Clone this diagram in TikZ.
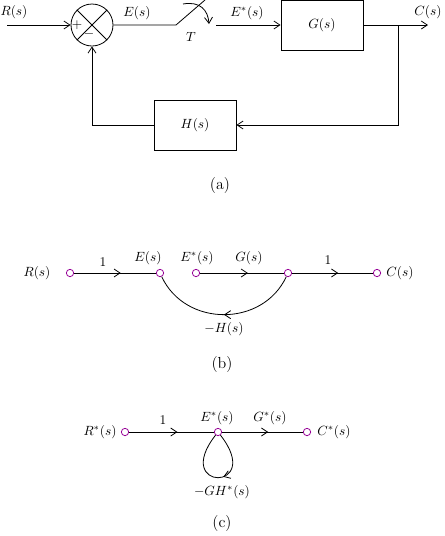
\documentclass[tikz,border=0pt]{standalone}
\usetikzlibrary{decorations.markings, arrows.meta}
\definecolor{nodepurple}{RGB}{150,0,150}
\begin{document}
\begin{tikzpicture}[x=0.75pt, y=0.75pt, semithick, >={Straight Barb[length=4.5pt, width=6pt]},
        block/.style = {draw, minimum width=61.5pt, minimum height=37.5pt},
        sig/.style = {draw=nodepurple, circle, inner sep=0pt, minimum size=5.5pt},
        flow/.style = {postaction={decorate}, decoration={markings, mark=at position #1 with {\arrow{>}}}},
        flow/.default = 0.57]
        \useasboundingbox (0,0) rectangle (444,-536);

        % (a) sampled loop
        \coordinate (in) at (7,-25);
        \node[draw, circle, minimum size=31.5pt] (sum) at (92,-25) {};
        \draw (sum.north west) -- (sum.south east);
        \draw (sum.north east) -- (sum.south west);
        \node at (77,-25) {$+$};
        \node at (89,-34) {$-$};
        \coordinate (sw1) at (176,-25);
        \coordinate (sw2) at (205,0);
        \coordinate (sw3) at (216,-25);
        \coordinate (t1) at (183,-4);
        \coordinate (t2) at (209,-24);
        \node[block] (G) at (322,-25) {$G(s)$};
        \node[block] (H) at (195,-125) {$H(s)$};
        \coordinate (br) at (398,-25);
        \coordinate (out) at (428,-25);

        \draw[->] (in) -- (sum);
        \draw (sum) -- (sw1) -- (sw2);
        \draw[->] (t1) .. controls (200,-1) and (208,-10) .. (t2);
        \draw[->] (sw3) -- (G);
        \draw[->] (G) -- (out);
        \draw[->] (br) |- (H);
        \draw[->] (H) -| (sum);

        \node at (14,-12) {$R(s)$};
        \node at (137,-13) {$E(s)$};
        \node at (191,-37) {$T$};
        \node at (247,-13) {$E^*(s)$};
        \node at (428,-12) {$C(s)$};
        \node at (220,-186) {\large (a)};

        % (b) signal flow graph
        \node[sig] (b1) at (70,-273) {};
        \node[sig] (b2) at (160,-273) {};
        \node[sig] (b3) at (196,-273) {};
        \node[sig] (b4) at (288,-273) {};
        \node[sig] (b5) at (377,-273) {};

        \draw[flow] (b1) -- (b2);
        \draw[flow] (b3) -- (b4);
        \draw[flow] (b4) -- (b5);
        \draw[flow=0.5] (b4) to[out=-115, in=-65, looseness=1.15] (b2);

        \node at (37,-273) {$R(s)$};
        \node at (103,-262) {$1$};
        \node at (148,-258) {$E(s)$};
        \node at (197,-258) {$E^*(s)$};
        \node at (249,-258) {$G(s)$};
        \node at (328,-260) {$1$};
        \node at (400,-273) {$C(s)$};
        \node at (224,-329) {$-H(s)$};
        \node at (222,-365) {\large (b)};

        % (c) sampled graph
        \node[sig] (c1) at (125,-432) {};
        \node[sig] (c2) at (218,-432) {};
        \node[sig] (c3) at (307,-432) {};

        \draw[flow] (c1) -- (c2);
        \draw[flow] (c2) -- (c3);
        \draw[flow=0.45] (c2) .. controls +(-52:76) and +(-128:76) .. (c2);

        \node at (100,-432) {$R^*(s)$};
        \node at (163,-420) {$1$};
        \node at (217,-418) {$E^*(s)$};
        \node at (270,-418) {$G^*(s)$};
        \node at (334,-432) {$C^*(s)$};
        \node at (222,-492) {$-GH^*(s)$};
        \node at (222,-524) {\large (c)};
\end{tikzpicture}
\end{document}
